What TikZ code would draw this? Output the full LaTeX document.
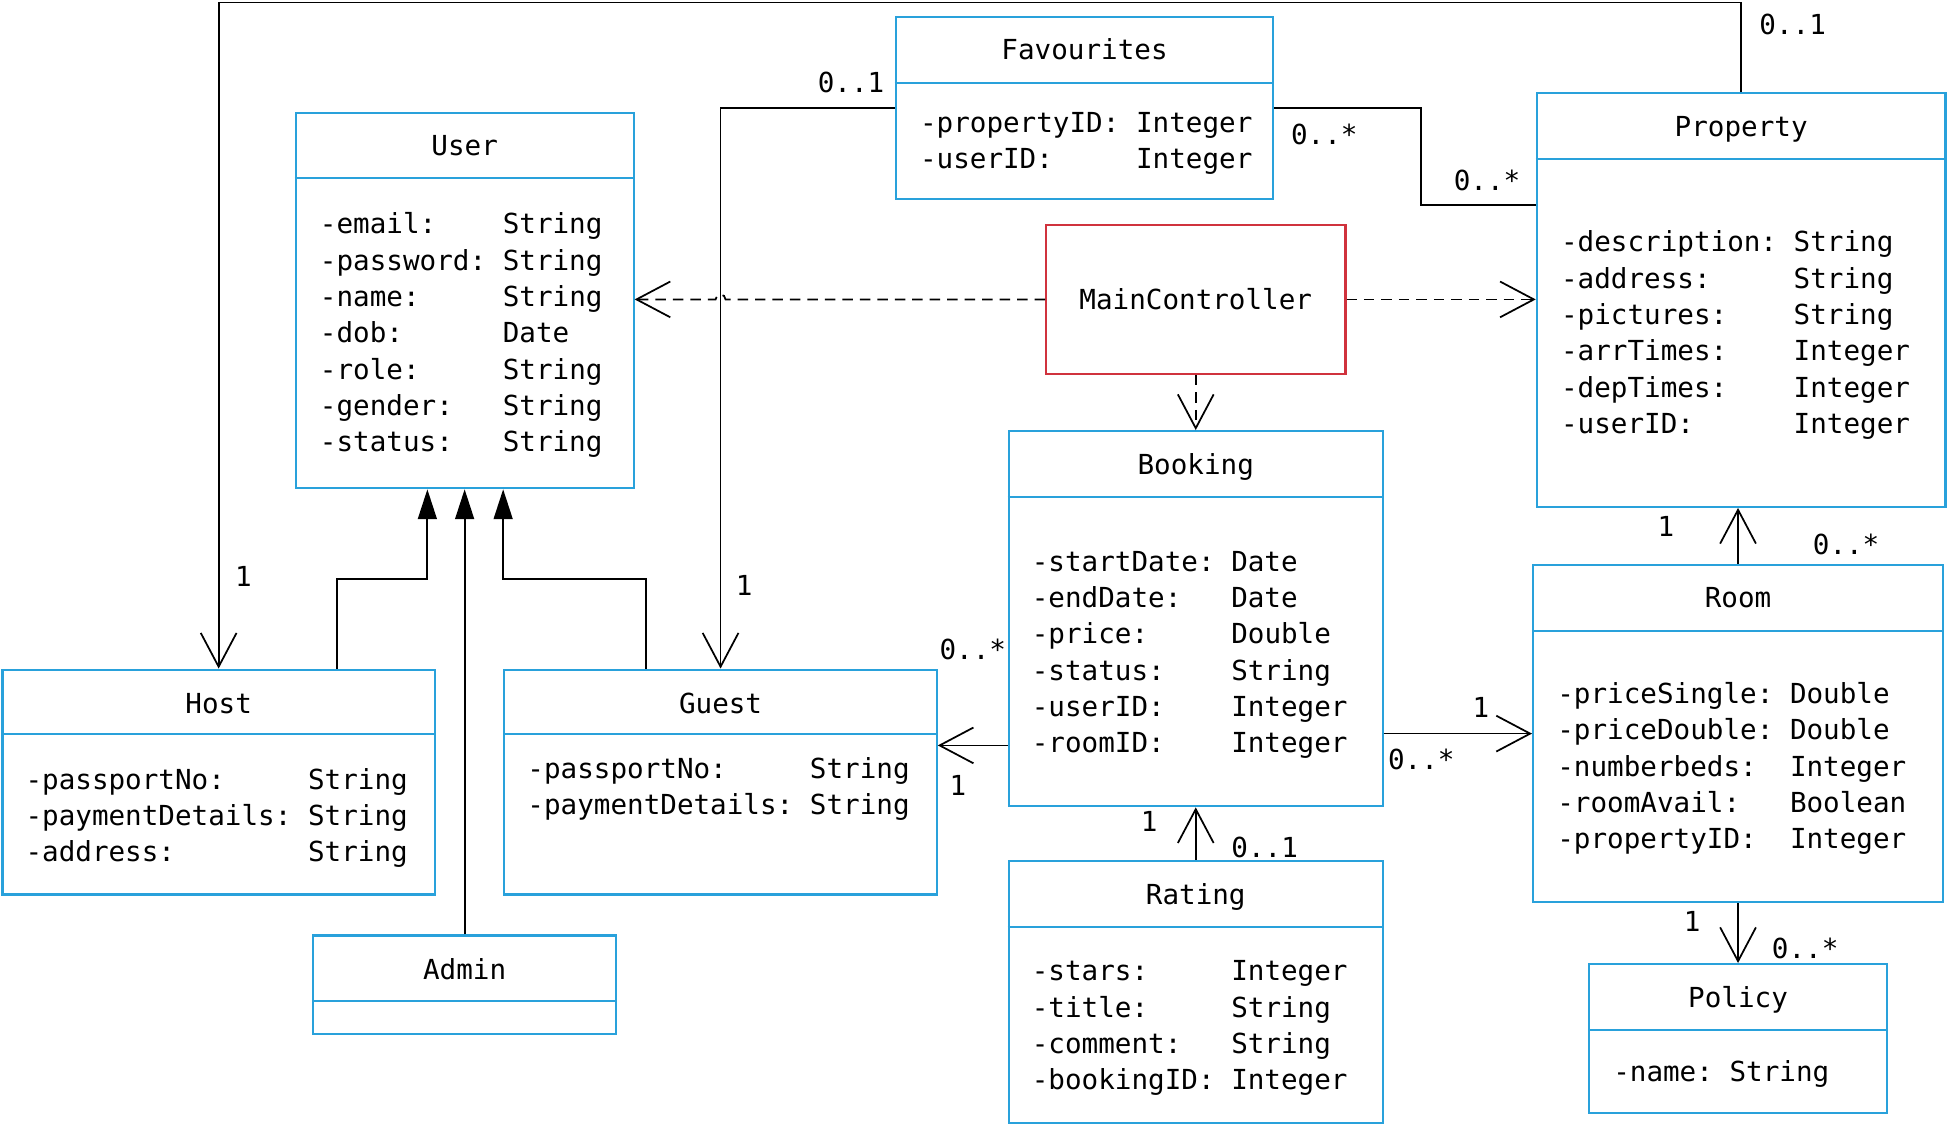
\documentclass[tikz,border=0pt]{standalone}
\usepackage{fontspec}
\usepackage{tikz}
\usetikzlibrary{calc,fit,arrows.meta}

\newfontfamily\umlfont{DejaVu Sans Mono}
\newcommand{\umltext}{\umlfont\fontsize{7.9}{10.4}\selectfont}
\definecolor{umlblue}{HTML}{29A1DB}
\definecolor{umlred}{HTML}{D0323D}

\begin{document}
\begin{tikzpicture}[x=0.0125cm, y=-0.0125cm,
  classbox/.style={draw=umlblue, line width=0.6pt, inner sep=0pt},
  ctrlbox/.style={draw=umlred, line width=0.6pt, inner sep=0pt},
  divider/.style={draw=umlblue, line width=0.6pt},
  classname/.style={font=\umltext, inner sep=0pt, text height=5.8pt, text depth=0pt},
  attr/.style={font=\umltext, anchor=west, inner sep=0pt},
  mult/.style={font=\umltext, inner sep=0pt, text height=5.8pt, text depth=0pt},
  assoc/.style={line width=0.5pt, -{Straight Barb[length=0.34cm, width=0.36cm]}},
  depend/.style={assoc, dash pattern=on 3pt off 2pt},
  inherit/.style={line width=0.5pt, -{Triangle[length=0.3cm, width=0.19cm]}}]
\useasboundingbox (0,0) rectangle (1568,905.5);

% the boxes
\node[classbox, fit={(238,91) (510,393)}] (user) {};
\node[classbox, fit={(721,14) (1025,160)}] (fav) {};
\node[classbox, fit={(1237,75) (1566,408)}] (property) {};
\node[ctrlbox, fit={(842,181) (1083,301)}] (mc) {};
\node[classbox, fit={(812,347) (1113,649)}] (booking) {};
\node[classbox, fit={(2,539) (350,720)}] (host) {};
\node[classbox, fit={(406,539) (754,720)}] (guest) {};
\node[classbox, fit={(252,753) (496,832)}] (admin) {};
\node[classbox, fit={(1234,455) (1564,726)}] (room) {};
\node[classbox, fit={(1279,776) (1519,896)}] (policy) {};
\node[classbox, fit={(812,693) (1113,904)}] (rating) {};

% dividers
\draw[divider] (user.west |- 0,143) -- (user.east |- 0,143);
\draw[divider] (fav.west |- 0,67) -- (fav.east |- 0,67);
\draw[divider] (property.west |- 0,128) -- (property.east |- 0,128);
\draw[divider] (booking.west |- 0,400) -- (booking.east |- 0,400);
\draw[divider] (host.west |- 0,591) -- (host.east |- 0,591);
\draw[divider] (guest.west |- 0,591) -- (guest.east |- 0,591);
\draw[divider] (admin.west |- 0,806) -- (admin.east |- 0,806);
\draw[divider] (room.west |- 0,508) -- (room.east |- 0,508);
\draw[divider] (policy.west |- 0,829) -- (policy.east |- 0,829);
\draw[divider] (rating.west |- 0,746) -- (rating.east |- 0,746);

% names
\node[classname] (userT) at (user.north |- 0,117) {User};
\node[classname] (favT) at (fav.north |- 0,40) {Favourites};
\node[classname] (propertyT) at (property.north |- 0,102) {Property};
\node[classname] (mcT) at (mc.center) {MainController};
\node[classname] (bookingT) at (booking.north |- 0,374) {Booking};
\node[classname] (hostT) at (host.north |- 0,566) {Host};
\node[classname] (guestT) at (guest.north |- 0,566) {Guest};
\node[classname] (adminT) at (admin.north |- 0,780) {Admin};
\node[classname] (roomT) at (room.north |- 0,481) {Room};
\node[classname] (policyT) at (policy.north |- 0,803) {Policy};
\node[classname] (ratingT) at (rating.north |- 0,720) {Rating};

% attributes
\node[attr] (userA) at (257,270) {\begin{tabular}{@{}l@{~}l@{}}
-email: & String\\ -password: & String\\ -name: & String\\ -dob: & Date\\
-role: & String\\ -gender: & String\\ -status: & String\end{tabular}};
\node[attr] (favA) at (740,115.5) {\begin{tabular}{@{}l@{~}l@{}}
-propertyID: & Integer\\ -userID: & Integer\end{tabular}};
\node[attr] (propertyA) at (1256,270) {\begin{tabular}{@{}l@{~}l@{}}
-description: & String\\ -address: & String\\ -pictures: & String\\
-arrTimes: & Integer\\ -depTimes: & Integer\\ -userID: & Integer\end{tabular}};
\node[attr] (bookingA) at (830,527) {\begin{tabular}{@{}l@{~}l@{}}
-startDate: & Date\\ -endDate: & Date\\ -price: & Double\\
-status: & String\\ -userID: & Integer\\ -roomID: & Integer\end{tabular}};
\node[attr] (hostA) at (20,658.5) {\begin{tabular}{@{}l@{~}l@{}}
-passportNo: & String\\ -paymentDetails: & String\\ -address: & String\end{tabular}};
\node[attr] (guestA) at (424,635.5) {\begin{tabular}{@{}l@{~}l@{}}
-passportNo: & String\\ -paymentDetails: & String\end{tabular}};
\node[attr] (roomA) at (1253,619) {\begin{tabular}{@{}l@{~}l@{}}
-priceSingle: & Double\\ -priceDouble: & Double\\ -numberbeds: & Integer\\
-roomAvail: & Boolean\\ -propertyID: & Integer\end{tabular}};
\node[attr] (policyA) at (1298,865) {\begin{tabular}{@{}l@{~}l@{}}
-name: & String\end{tabular}};
\node[attr] (ratingA) at (830,827.5) {\begin{tabular}{@{}l@{~}l@{}}
-stars: & Integer\\ -title: & String\\ -comment: & String\\ -bookingID: & Integer\end{tabular}};

% associations
\coordinate (topline) at (0,2);
\draw[assoc] (property.north) -- (property.north |- topline) -| (host.north);
\draw[assoc] (fav.west) -| (guest.north);
\coordinate (favbend) at (1144,165);
\draw[line width=0.5pt] (fav.east) -| (favbend) -- (favbend -| property.west);
\coordinate (bg) at (0,600);
\draw[assoc] (booking.west |- bg) -- (guest.east |- bg);
\draw[assoc] (booking.east |- room.west) -- (room.west);
\draw[assoc] (rating.north) -- (booking.south);
\draw[assoc] (room.north) -- (room.north |- property.south);
\draw[assoc] (room.south) -- (policy.north);

% dependencies
\draw[depend] (mc.west) -- (584,241) arc[start angle=0, end angle=-180, radius=4] -- (mc.west -| user.east);
\draw[depend] (mc.east) -- (mc.east -| property.west);
\draw[depend] (mc.south) -- (booking.north);

% inheritance
\coordinate (h1) at (271,466);
\coordinate (u1) at (344,0);
\coordinate (g1) at (520,466);
\coordinate (u2) at (405,0);
\draw[inherit] (host.north -| h1) -- (h1) -| (u1 |- user.south);
\draw[inherit] (admin.north) -- (user.south);
\draw[inherit] (guest.north -| g1) -- (g1) -| (u2 |- user.south);

% multiplicities
\node[mult] (m1) at (1443,20) {0..1};
\node[mult] (m2) at (196,464) {1};
\node[mult] (m3) at (685,66) {0..1};
\node[mult] (m4) at (599,471) {1};
\node[mult] (m5) at (1066,108) {0..*};
\node[mult] (m6) at (1197,145) {0..*};
\node[mult] (m7) at (783,523) {0..*};
\node[mult] (m8) at (771,632) {1};
\node[mult] (m9) at (1192,569) {1};
\node[mult] (m10) at (1144,611) {0..*};
\node[mult] (m11) at (925,661) {1};
\node[mult] (m12) at (1018,682) {0..1};
\node[mult] (m13) at (1341,424) {1};
\node[mult] (m14) at (1486,438) {0..*};
\node[mult] (m15) at (1362,742) {1};
\node[mult] (m16) at (1453,763) {0..*};
\end{tikzpicture}
\end{document}
